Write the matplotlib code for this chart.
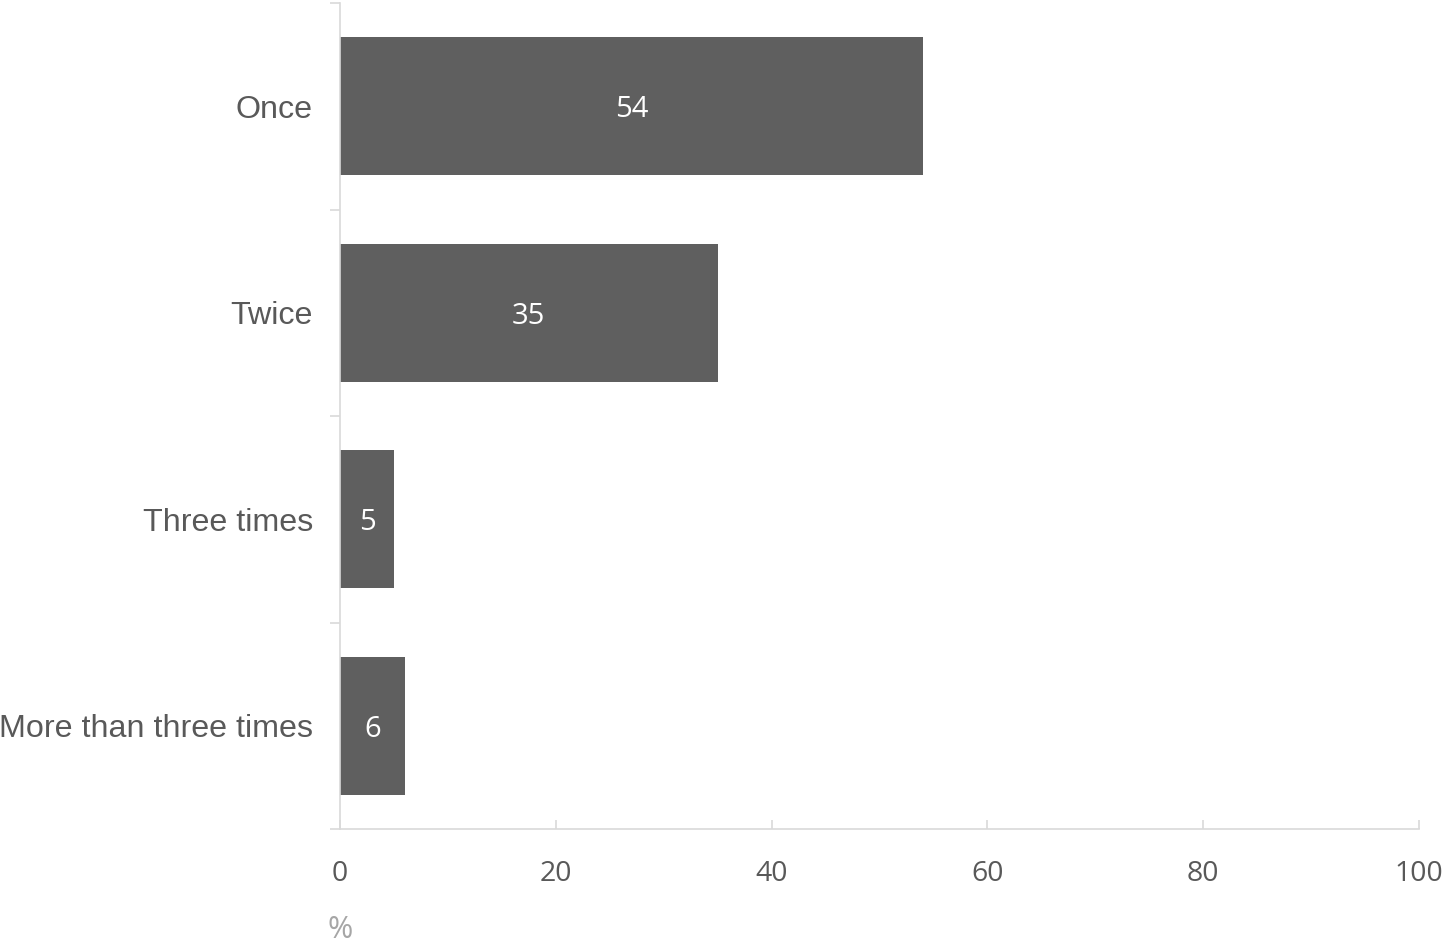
import matplotlib
matplotlib.use("Agg")
import matplotlib.pyplot as plt
import numpy as np

categories = ["Once", "Twice", "Three times", "More than three times"]
values = [54, 35, 5, 6]
xticks = [0, 20, 40, 60, 80, 100]

bar_color = "#5f5f5f"
axis_color = "#d9d9d9"
text_color = "#595959"

fig = plt.figure(figsize=(14.45, 9.44), dpi=100)
ax = fig.add_axes([340/1445, 1-829/944, (1419-340)/1445, (829-3)/944])

y = np.arange(len(categories))
bars = ax.barh(y, values, height=0.667, color=bar_color, zorder=2)

ax.set_xlim(0, 100)
ax.set_ylim(len(categories)-0.5, -0.5)

for s in ["top", "right"]:
    ax.spines[s].set_visible(False)
for s in ["left", "bottom"]:
    ax.spines[s].set_color(axis_color)
    ax.spines[s].set_linewidth(1.2)

ax.set_xticks(xticks)
ax.set_xticklabels([str(v) for v in xticks], fontfamily="Open Sans", fontsize=20.5, color=text_color)
ax.tick_params(axis="x", direction="in", length=6.5, width=1.2, color=axis_color, pad=22)

ax.set_yticks(y)
ax.set_yticklabels(categories, fontfamily="Liberation Sans", fontsize=23.2, color=text_color)
ax.tick_params(axis="y", which="major", length=0, pad=19.5)
ax.set_yticks(np.arange(-0.5, len(categories)), minor=True)
ax.tick_params(axis="y", which="minor", direction="out", length=7.2, width=1.2, color=axis_color)

for b, v in zip(bars, values):
    ax.text(b.get_x() + b.get_width()/2, b.get_y() + b.get_height()/2, str(v),
            ha="center", va="center_baseline", color="white", fontfamily="Open Sans", fontsize=21)

fig.text(340/1445, 1-930/944, "%", ha="center", va="center", color="#a6a6a6",
         fontfamily="Open Sans", fontsize=22)

fig.savefig("out.png", dpi=100)
